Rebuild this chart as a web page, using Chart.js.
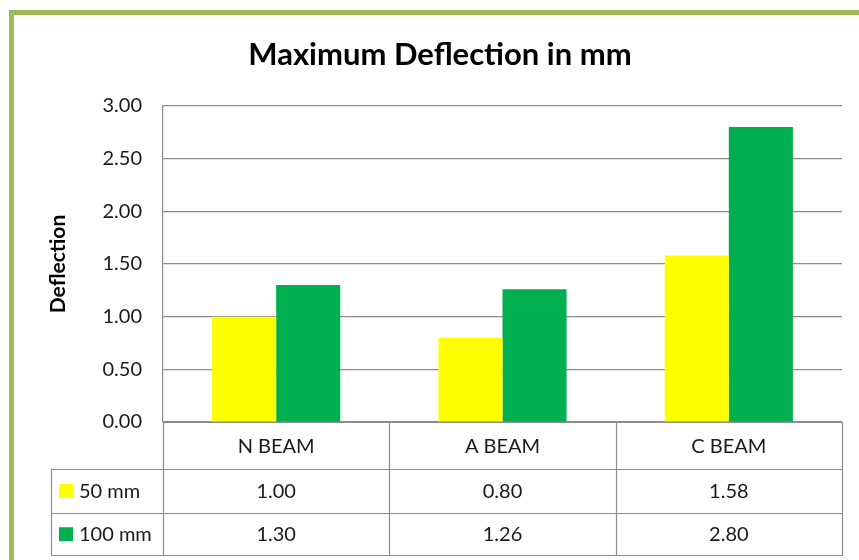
<!DOCTYPE html>
<html><head><meta charset="utf-8">
<script src="https://cdn.jsdelivr.net/npm/chart.js@4.4.0/dist/chart.umd.min.js"></script>
<style>
html,body{margin:0;padding:0;background:#fff;overflow:hidden;}
#wrap{position:relative;width:859px;height:560px;overflow:hidden;}
#frame{position:absolute;left:9px;top:10px;width:900px;height:600px;border:5px solid #9BBB59;pointer-events:none;box-sizing:border-box;}
canvas{position:absolute;left:0;top:0;}
</style></head><body>
<div id="wrap"><canvas id="c" width="859" height="560"></canvas><div id="frame"></div></div>
<script>
const categories = ['N BEAM', 'A BEAM', 'C BEAM'];
const seriesNames = ['50 mm', '100 mm'];
const series50 = [1.00, 0.80, 1.58];
const series100 = [1.30, 1.26, 2.80];
const seriesColors = ['#FFFF00', '#00B050'];
const yMin = 0, yMax = 3, yStep = 0.5;
const chartTitle = 'Maximum Deflection in mm';
const yTitle = 'Deflection';

const FONT = 'Lato, "Open Sans", sans-serif';
const LINE = '#8C8C8C';
const TXT = '#1a1a1a';

const titlePlugin = {
  id: 'mainTitle',
  afterDraw(chart) {
    const ctx = chart.ctx;
    ctx.save();
    ctx.fillStyle = '#000';
    ctx.font = 'bold 31px ' + FONT;
    ctx.textAlign = 'center';
    ctx.textBaseline = 'middle';
    ctx.fillText(chartTitle, 440, 55);
    ctx.restore();
  }
};

const tablePlugin = {
  id: 'dataTable',
  afterDraw(chart) {
    const ctx = chart.ctx;
    const ca = chart.chartArea;
    const xs = chart.scales.x;
    const n = categories.length;
    const half = (xs.getPixelForValue(1) - xs.getPixelForValue(0)) / 2;
    const bounds = [];
    for (let i = 0; i < n; i++) bounds.push(xs.getPixelForValue(i) - half);
    bounds.push(xs.getPixelForValue(n - 1) + half);
    const top = ca.bottom;
    const rows = [top, top + 46.5, top + 90.5, top + 133];
    const legLeft = 51;
    ctx.save();
    ctx.strokeStyle = LINE;
    ctx.lineWidth = 1.2;
    const hl = (y, x0, x1) => { ctx.beginPath(); ctx.moveTo(x0, Math.round(y) + 0.5); ctx.lineTo(x1, Math.round(y) + 0.5); ctx.stroke(); };
    const vl = (x, y0, y1) => { ctx.beginPath(); ctx.moveTo(Math.round(x) + 0.5, y0); ctx.lineTo(Math.round(x) + 0.5, y1); ctx.stroke(); };
    hl(rows[0], bounds[0], bounds[n] + 1);
    for (let r = 1; r < rows.length; r++) hl(rows[r], legLeft, bounds[n] + 1);
    for (let i = 0; i <= n; i++) vl(bounds[i], rows[0], rows[3] + 1);
    vl(legLeft, rows[1], rows[3] + 1);
    ctx.fillStyle = TXT;
    ctx.font = '20px ' + FONT;
    ctx.textAlign = 'center';
    ctx.textBaseline = 'middle';
    categories.forEach((c, i) => ctx.fillText(c, xs.getPixelForValue(i), (rows[0] + rows[1]) / 2 + 1));
    const data = [series50, series100];
    data.forEach((arr, r) => {
      const yc = (rows[r + 1] + rows[r + 2]) / 2 + 1;
      ctx.textAlign = 'center';
      ctx.fillStyle = TXT;
      arr.forEach((v, i) => ctx.fillText(v.toFixed(2), xs.getPixelForValue(i), yc));
      ctx.fillStyle = seriesColors[r];
      ctx.fillRect(59, yc - 7.5, 14, 14);
      ctx.fillStyle = TXT;
      ctx.textAlign = 'left';
      ctx.fillText(seriesNames[r], 79, yc);
    });
    ctx.restore();
  }
};

new Chart(document.getElementById('c'), {
  type: 'bar',
  data: {
    labels: categories,
    datasets: [
      { label: seriesNames[0], data: series50, backgroundColor: seriesColors[0], borderWidth: 0 },
      { label: seriesNames[1], data: series100, backgroundColor: seriesColors[1], borderWidth: 0 }
    ]
  },
  options: {
    responsive: false,
    animation: false,
    devicePixelRatio: 1,
    datasets: { bar: { barPercentage: 1, categoryPercentage: 0.566 } },
    layout: { padding: { left: 14, right: 17, top: 106, bottom: 138 } },
    plugins: {
      legend: { display: false },
      tooltip: { enabled: false },
      title: { display: false }
    },
    scales: {
      x: { display: false },
      y: {
        min: yMin, max: yMax,
        afterFit(s) { s.width = 149; },
        ticks: { stepSize: yStep, padding: 21, color: TXT, font: { family: FONT, size: 20 }, callback: v => Number(v).toFixed(2) },
        grid: { color: LINE, lineWidth: 1.2, drawTicks: false },
        border: { display: true, color: LINE, width: 1.2 },
        title: { display: true, text: yTitle, color: '#000', font: { family: FONT, size: 21, weight: 'bold' }, padding: { top: 32, bottom: 0 } }
      }
    }
  },
  plugins: [titlePlugin, tablePlugin]
});
</script>
</body></html>
